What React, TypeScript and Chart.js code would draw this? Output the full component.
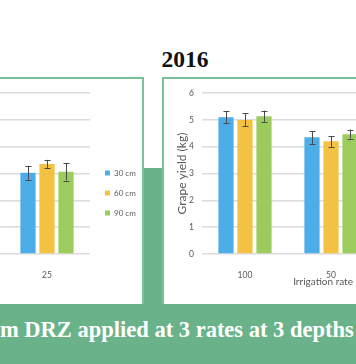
import React, { useEffect, useRef } from 'react';
import { Chart, registerables } from 'chart.js';

Chart.register(...registerables);

// ---- data ----
const categories = ['100', '50', '25'];
const seriesLabels = ['30 cm', '60 cm', '90 cm'];
const yTicks = [0, 1, 2, 3, 4, 5, 6];

// left panel (only the "25" group is visible)
const left30 = [null, null, 3.03];
const left60 = [null, null, 3.36];
const left90 = [null, null, 3.07];
const left30Err = [null, null, 0.26];
const left60Err = [null, null, 0.15];
const left90Err = [null, null, 0.33];

// right panel, 2016 (the "25" group is outside the picture)
const right30 = [5.1, 4.35, null];
const right60 = [5.0, 4.2, null];
const right90 = [5.14, 4.47, null];
const right30Err = [0.22, 0.24, null];
const right60Err = [0.24, 0.2, null];
const right90Err = [0.21, 0.17, null];

const COLORS = ['#4DADE8', '#F4C243', '#9DCC5E'];
const GREEN = '#6AB38A';
const BORDER = '#7CC098';
const TXT = '#595959';

const errorBarPlugin = {
  id: 'errorBars',
  afterDatasetsDraw(chart: any) {
    const ctx = chart.ctx;
    const ys = chart.scales.y;
    ctx.save();
    ctx.strokeStyle = '#4a4a4a';
    ctx.lineWidth = 1;
    chart.data.datasets.forEach((ds: any, i: number) => {
      const meta = chart.getDatasetMeta(i);
      meta.data.forEach((bar: any, j: number) => {
        const v = ds.data[j];
        const e = ds.errors ? ds.errors[j] : null;
        if (v == null || e == null) return;
        const t = ys.getPixelForValue(v + e);
        const b = ys.getPixelForValue(v - e);
        const x = Math.round(bar.x) + 0.5;
        ctx.beginPath();
        ctx.moveTo(x, t);
        ctx.lineTo(x, b);
        ctx.moveTo(x - 3, Math.round(t) + 0.5);
        ctx.lineTo(x + 3, Math.round(t) + 0.5);
        ctx.moveTo(x - 3, Math.round(b) + 0.5);
        ctx.lineTo(x + 3, Math.round(b) + 0.5);
        ctx.stroke();
      });
    });
    ctx.restore();
  },
};

function makeConfig(vals: any[][], errs: any[][]): any {
  return {
    type: 'bar',
    data: {
      labels: categories,
      datasets: vals.map((d, i) => ({
        label: seriesLabels[i],
        data: d,
        errors: errs[i],
        backgroundColor: COLORS[i],
        borderWidth: 0,
        categoryPercentage: 0.663,
        barPercentage: 0.8,
      })),
    },
    options: {
      responsive: false,
      animation: false,
      layout: { padding: { left: 0, right: 0, top: 12, bottom: 8 } },
      plugins: {
        tooltip: { enabled: false },
        legend: {
          position: 'right',
          maxWidth: 49,
          labels: {
            boxWidth: 5,
            boxHeight: 5,
            padding: 12,
            color: TXT,
            font: { family: 'Lato', size: 8 },
          },
        },
      },
      scales: {
        x: {
          grid: { display: false },
          border: { display: false },
          ticks: { color: TXT, font: { family: 'Lato', size: 8.5 }, padding: 8 },
          title: {
            display: true,
            text: 'Irrigation rate (%)',
            color: TXT,
            font: { family: 'Lato', size: 10 },
            padding: { top: 0, bottom: 6 },
          },
          afterFit: (s: any) => {
            s.height = 40;
          },
        },
        y: {
          min: 0,
          max: 6,
          afterBuildTicks: (s: any) => {
            s.ticks = yTicks.map((v) => ({ value: v }));
          },
          grid: { color: '#DCDCDC', lineWidth: 1.5, drawTicks: false },
          border: { display: false },
          ticks: { color: TXT, font: { family: 'Lato', size: 8.5 }, padding: 8 },
          title: {
            display: true,
            text: 'Grape yield (kg)',
            color: TXT,
            font: { family: 'Lato', size: 12 },
            padding: { top: 10.5, bottom: 0 },
          },
          afterFit: (s: any) => {
            s.width = 38;
          },
        },
        yR: {
          type: 'linear',
          position: 'right',
          grid: { display: false },
          border: { display: false },
          ticks: { display: false },
          afterFit: (s: any) => {
            s.width = 3;
          },
        },
      },
    },
    plugins: [errorBarPlugin],
  };
}

function BarChart({ vals, errs, style }: { vals: any[][]; errs: any[][]; style: any }) {
  const ref = useRef<HTMLCanvasElement>(null);
  useEffect(() => {
    if (!ref.current) return;
    const chart = new Chart(ref.current, makeConfig(vals, errs));
    return () => chart.destroy();
  }, []);
  return <canvas ref={ref} width={348} height={222} style={{ position: 'absolute', width: 348, height: 222, ...style }} />;
}

export default function App() {
  return (
    <div
      style={{
        position: 'fixed',
        left: 0,
        top: 0,
        width: 356,
        height: 364,
        overflow: 'hidden',
        background: '#ffffff',
      }}
    >
      <div style={{ position: 'absolute', left: 0, top: 168, width: 356, height: 196, background: GREEN }} />
      <div
        style={{
          position: 'absolute',
          left: -220,
          top: 77,
          width: 364,
          height: 227,
          boxSizing: 'border-box',
          border: `2px solid ${BORDER}`,
          borderBottom: 'none',
          background: '#fff',
        }}
      />
      <div
        style={{
          position: 'absolute',
          left: 162,
          top: 77,
          width: 400,
          height: 227,
          boxSizing: 'border-box',
          border: `2px solid ${BORDER}`,
          borderBottom: 'none',
          background: '#fff',
        }}
      />
      <BarChart vals={[left30, left60, left90]} errs={[left30Err, left60Err, left90Err]} style={{ left: -206, top: 80 }} />
      <BarChart vals={[right30, right60, right90]} errs={[right30Err, right60Err, right90Err]} style={{ left: 164, top: 80 }} />
      <div
        style={{
          position: 'absolute',
          left: 135,
          width: 100,
          top: 48,
          textAlign: 'center',
          fontFamily: '"Liberation Serif", serif',
          fontWeight: 700,
          fontSize: 23.5,
          lineHeight: '23.5px',
          color: '#111',
        }}
      >
        2016
      </div>
      <div
        style={{
          position: 'absolute',
          left: 0,
          top: 318.5,
          whiteSpace: 'nowrap',
          fontFamily: '"Liberation Serif", serif',
          fontWeight: 700,
          fontSize: 22.5,
          lineHeight: '22.5px',
          color: '#ffffff',
        }}
      >
        m DRZ applied at 3 rates at 3 depths
      </div>
    </div>
  );
}
